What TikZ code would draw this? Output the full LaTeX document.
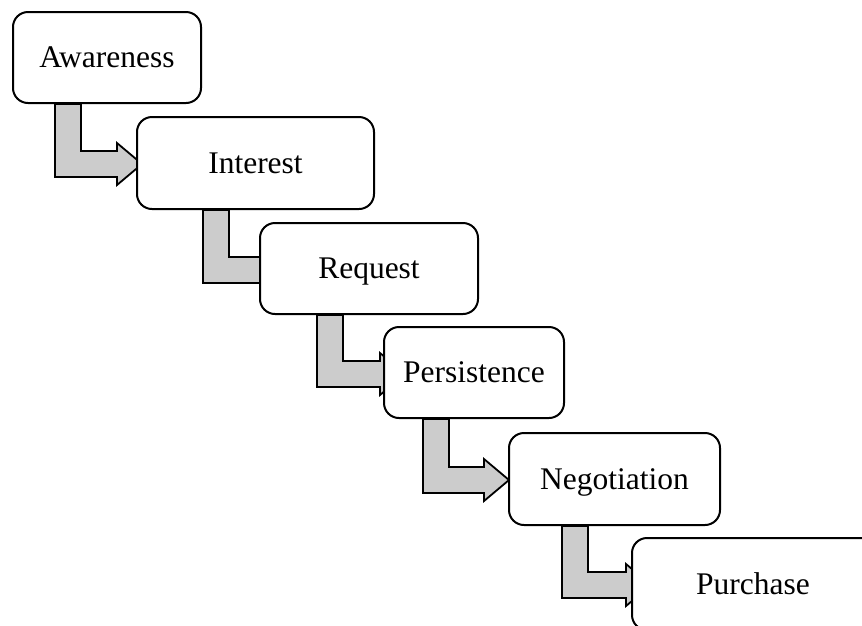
\documentclass[tikz,border=0pt]{standalone}
\usepackage{fontspec}
\setmainfont{Liberation Serif}
\usetikzlibrary{calc,backgrounds}
\definecolor{arrowgray}{RGB}{204,204,204}
\tikzset{
  stagebox/.style={draw=black, line width=2pt, fill=white, rounded corners=15pt,
    inner sep=0pt, text height=20.8pt, text depth=0pt,
    font=\fontsize{31.5}{38}\selectfont},
  bentarr/.style={draw=black, line width=1.8pt, fill=arrowgray, line join=miter}
}
\newcommand{\bentarrow}[4]{%
  \filldraw[bentarr] let \p1=(#1.south), \p2=(#2.north west),
      \n1={\x2+(#3)*1pt}, \n2={\x2+(#3)*1pt+26pt}, \n3={\x2+(#4)*1pt}, \n4={\x2+(#4)*1pt+25pt} in
    (\n1, \y1) -- (\n1, {\y2-61pt}) -- (\n3, {\y2-61pt})
    -- (\n3, {\y2-69pt}) -- (\n4, {\y2-48pt})
    -- (\n3, {\y2-27pt}) -- (\n3, {\y2-35pt})
    -- (\n2, {\y2-35pt}) -- (\n2, \y1) -- cycle;}
\begin{document}
\begin{tikzpicture}[x=1pt, y=-1pt]
  \useasboundingbox (0,0) rectangle (862,625);
  \clip (0,0) rectangle (862,625);
  \node[stagebox, minimum width=188pt, minimum height=91pt] (aw) at (107,57.5) {Awareness};
  \node[stagebox, minimum width=237pt, minimum height=92pt] (in) at (255.5,163) {Interest};
  \node[stagebox, minimum width=218pt, minimum height=91pt] (rq) at (369,268.5) {Request};
  \node[stagebox, minimum width=180pt, minimum height=91pt] (pe) at (474,372.5) {Persistence};
  \node[stagebox, minimum width=211pt, minimum height=92pt] (ne) at (614.5,479) {Negotiation};
  \node[stagebox, minimum width=264pt, minimum height=92pt] (pu) at (764,584) {\hspace*{-22pt}Purchase};
  \begin{scope}[on background layer]
    \bentarrow{aw}{in}{-81}{-19}
    \bentarrow{in}{rq}{-56}{5}
    \bentarrow{rq}{pe}{-66}{-3}
    \bentarrow{pe}{ne}{-85}{-24}
    \bentarrow{ne}{pu}{-69}{-5}
  \end{scope}
\end{tikzpicture}
\end{document}
